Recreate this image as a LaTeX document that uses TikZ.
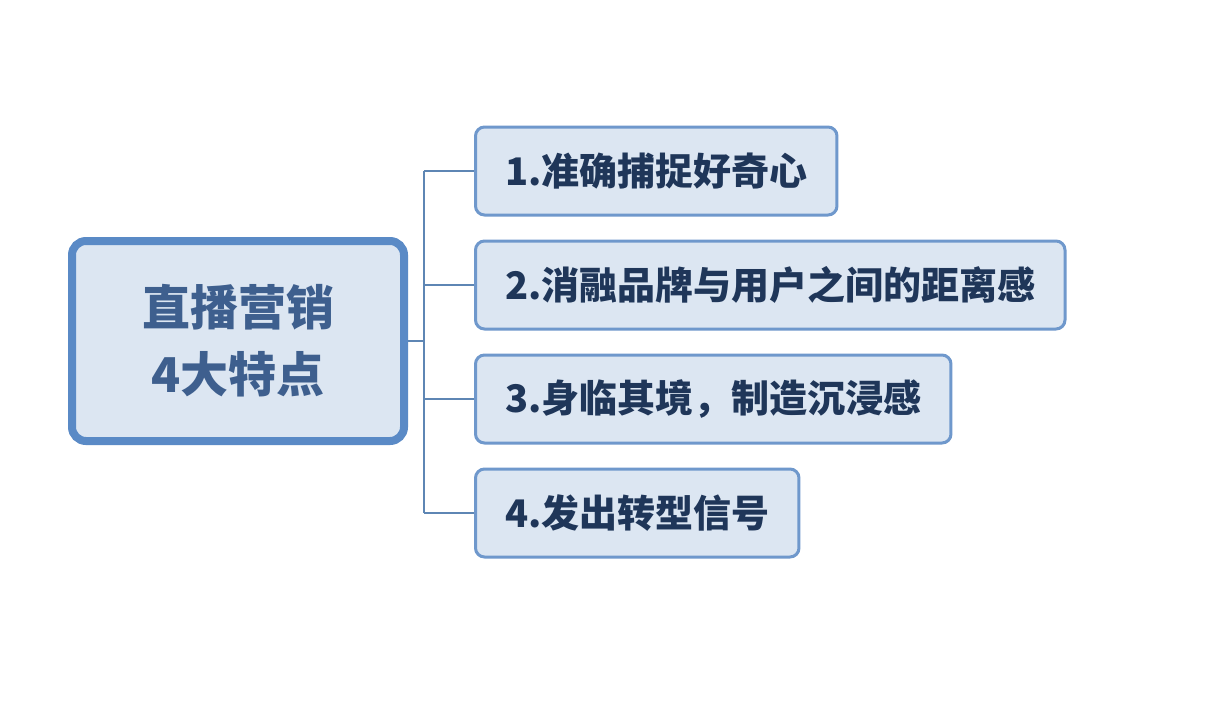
\documentclass[tikz,border=0pt]{standalone}
\usepackage{fontspec}
\newfontfamily\cjk{Noto Sans CJK SC}
\definecolor{boxfill}{HTML}{DCE6F2}
\definecolor{rootline}{HTML}{5A8AC6}
\definecolor{leafline}{HTML}{6F98CC}
\definecolor{linkline}{HTML}{5E86B4}
\definecolor{roottext}{HTML}{3E5F8E}
\definecolor{leaftext}{HTML}{1F3659}
\tikzset{
  rootbox/.style={draw=rootline,fill=boxfill,line width=4pt,rounded corners=7pt,
    minimum width=166pt,minimum height=100pt,align=center,text=roottext,
    font=\cjk\bfseries\fontsize{24}{33.5}\selectfont},
  leafbox/.style={draw=leafline,fill=boxfill,line width=1.5pt,rounded corners=4.5pt,
    minimum height=44pt,inner xsep=14.75pt,text=leaftext,anchor=west,
    font=\cjk\bfseries\fontsize{19}{22}\selectfont},
  link/.style={draw=linkline,line width=0.8pt}
}
\begin{document}
\begin{tikzpicture}[x=0.5pt,y=-0.5pt]
\useasboundingbox (0,0) rectangle (1218,701);
\fill[white] (0,0) rectangle (1218,701);

% Root
\node[rootbox] (root) at (238,341) {直播营销\\4大特点};

% Trunk
\coordinate (trunk) at (424,341);
\draw[link] (root.east) -- (trunk);

% Leaves
\foreach \i/\y/\txt in {1/171/{准确捕捉好奇心}, 2/285/{消融品牌与用户之间的距离感},
    3/399/{身临其境，制造沉浸感}, 4/513/{发出转型信号}} {
  \node[leafbox] (leaf\i) at (474,\y) {\i.\txt};
  \draw[link] (trunk |- leaf\i.west) -- (leaf\i.west);
}
\draw[link] (trunk |- leaf1.west) -- (trunk |- leaf4.west);

\end{tikzpicture}
\end{document}
